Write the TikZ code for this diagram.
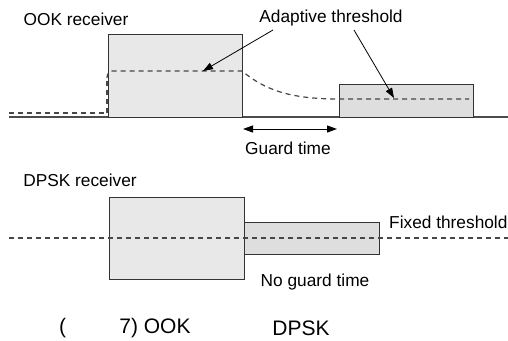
\documentclass[tikz,border=0pt]{standalone}
\usepackage{fontspec}
\setmainfont{Liberation Sans}
\usetikzlibrary{arrows.meta}
\begin{document}
\begin{tikzpicture}[x=1pt,y=-1pt,
 lbl/.style={font=\fontsize{17.3}{20}\selectfont, inner sep=0pt},
 capt/.style={font=\fontsize{21}{24}\selectfont, inner sep=0pt},
 bigbox/.style={draw=black!80, fill=black!9, line width=1pt},
 smallbox/.style={draw=black!80, fill=black!13, line width=1pt},
 base/.style={draw=black!70, line width=1.4pt},
 thr/.style={draw=black!72, dash pattern=on 5pt off 4pt, line width=1.2pt},
 ptr/.style={-{Triangle[length=10pt,width=7pt]}, line width=0.8pt},
 dptr/.style={{Triangle[length=10pt,width=7pt]}-{Triangle[length=10pt,width=7pt]}, line width=1pt},
]
\useasboundingbox (0,0) rectangle (508,340);
% ---------- OOK ----------
\coordinate (bl) at (9,117);
\coordinate (br) at (508,117);
\draw[base] (bl) -- (br);
\path[bigbox] (108,34) rectangle (242,117);
\node[inner sep=0, minimum width=134pt, minimum height=83pt] (ook1) at (175,75.5) {};
\path[smallbox] (339,84) rectangle (473,117);
\node[inner sep=0, minimum width=134pt, minimum height=33pt] (ook2) at (406,100.5) {};
\coordinate (t0) at (9,113);
\coordinate (t1) at (107,113);
\coordinate (t2) at (107,78);
\coordinate (t3) at (112,71);
\coordinate (t4) at (242,71);
\coordinate (t5) at (339,99);
\coordinate (t6) at (469,99);
\draw[thr] (t0) -- (t1);
\draw[thr, line width=1.8pt] (t1) -- (t2);
\draw[thr] (t2) to[out=90,in=180] (t3) -- (t4)
  .. controls (265,90) and (290,99) .. (t5) -- (t6);
\node[lbl] (ookl) at (76,19) {OOK receiver};
\node[lbl] (adl) at (331,18) {Adaptive threshold};
\coordinate (a1s) at (273,30);
\coordinate (a1e) at (203,71);
\coordinate (a2s) at (354,30);
\coordinate (a2e) at (394,98);
\draw[ptr] (a1s) -- (a1e);
\draw[ptr] (a2s) -- (a2e);
\coordinate (g1) at (243,129);
\coordinate (g2) at (337,129);
\draw[dptr] (g1) -- (g2);
\node[lbl] (gl) at (288,148) {Guard time};
% ---------- DPSK ----------
\node[lbl] (dpl) at (80,180) {DPSK receiver};
\path[bigbox] (109,197) rectangle (244,279);
\node[inner sep=0, minimum width=135pt, minimum height=82pt] (dp1) at (176.5,238) {};
\path[smallbox] (244,222) rectangle (379,254);
\node[inner sep=0, minimum width=135pt, minimum height=32pt] (dp2) at (311.5,238) {};
\coordinate (f0) at (9,238);
\coordinate (f1) at (508,238);
\draw[thr] (f0) -- (f1);
\node[lbl, anchor=west] (fxl) at (389,222) {Fixed threshold};
\node[lbl] (ngl) at (315,282) {No guard time};
% ---------- caption ----------
\node[capt] (c1) at (62.5,328) {(};
\node[capt] (c2) at (155,328) {7) OOK};
\node[capt] (c3) at (301,328) {DPSK};
\end{tikzpicture}
\end{document}
